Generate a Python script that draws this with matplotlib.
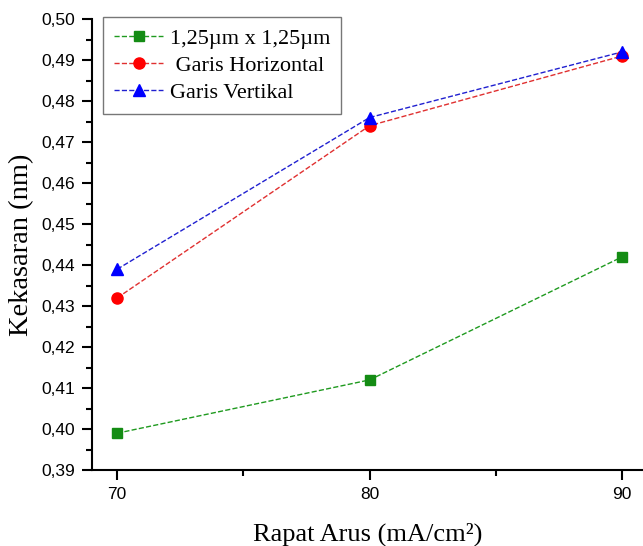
import matplotlib
matplotlib.use("Agg")
import matplotlib.pyplot as plt
from matplotlib.ticker import MultipleLocator, FuncFormatter

x = [70, 80, 90]
green = [0.399, 0.412, 0.442]
red = [0.432, 0.474, 0.491]
blue = [0.439, 0.476, 0.492]
labels = ["1,25\u00b5m x 1,25\u00b5m", " Garis Horizontal", "Garis Vertikal"]

fig = plt.figure(figsize=(6.43, 5.46), dpi=100)
ax = fig.add_axes([0.143, 0.139, 0.857, 0.826])

ax.plot(x, green, ls="--", lw=1, color="#1f9a1f", marker="s", ms=7, mfc="#148c14", mec="#148c14", label=labels[0])
ax.plot(x, red, ls="--", lw=1, color="#e03030", marker="o", ms=8, mfc="red", mec="red", label=labels[1])
ax.plot(x, blue, ls="--", lw=1, color="#2020d0", marker="^", ms=8, mfc="blue", mec="blue", label=labels[2])

ax.set_xlim(69.0, 90.83)
ax.set_ylim(0.39, 0.50)
for s in ["top", "right"]:
    ax.spines[s].set_visible(False)
for s in ["left", "bottom"]:
    ax.spines[s].set_linewidth(1.5)

ax.xaxis.set_major_locator(MultipleLocator(10))
ax.xaxis.set_minor_locator(MultipleLocator(5))
ax.yaxis.set_major_locator(MultipleLocator(0.01))
ax.yaxis.set_minor_locator(MultipleLocator(0.005))
ax.yaxis.set_major_formatter(FuncFormatter(lambda v, p: f"{v:.2f}".replace(".", ",")))
ax.tick_params(which="major", direction="out", length=7, width=1.5, labelsize=12.5, pad=5)
ax.tick_params(which="minor", direction="out", length=4, width=1.5)
for t in ax.get_xticklabels() + ax.get_yticklabels():
    t.set_fontfamily("Liberation Sans")

ax.set_xlabel("Rapat Arus (mA/cm\u00b2)", fontfamily="Liberation Serif", fontsize=19, labelpad=15)
ax.set_ylabel("Kekasaran (nm)", fontfamily="Liberation Serif", fontsize=20.5, labelpad=5)

leg = ax.legend(loc="upper left", bbox_to_anchor=(0.02, 1.005), prop={"family": "Liberation Serif", "size": 16},
                frameon=True, fancybox=False, edgecolor="#555555", handlelength=2.2, handletextpad=0.3,
                borderpad=0.5, labelspacing=0.3, borderaxespad=0)
leg.get_frame().set_linewidth(1.0)

fig.savefig("out.png", dpi=100)
